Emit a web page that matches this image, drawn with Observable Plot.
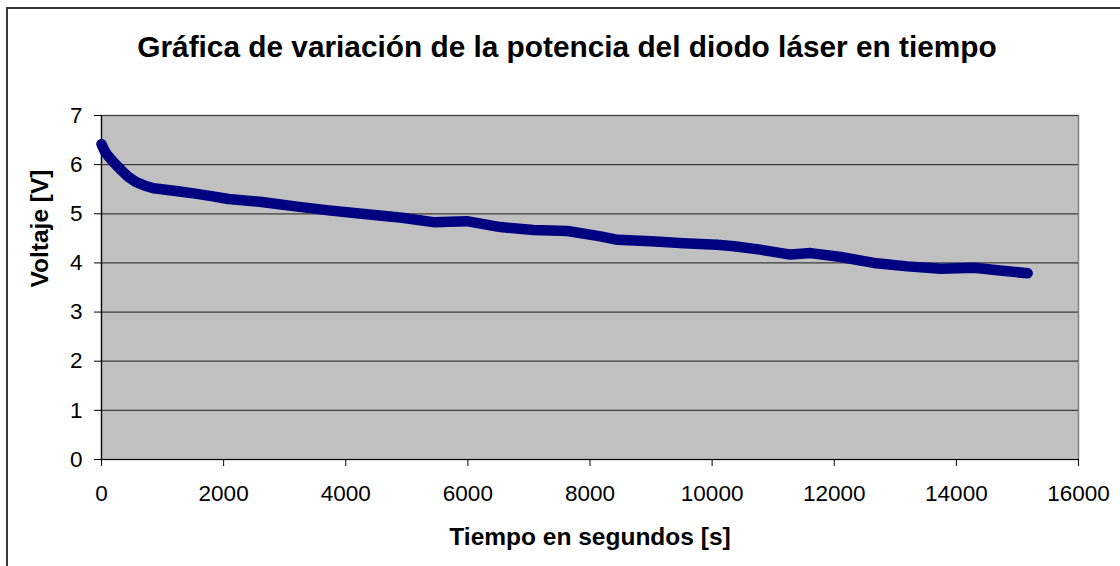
<!DOCTYPE html>
<html>
<head>
<meta charset="utf-8">
<script src="https://cdn.jsdelivr.net/npm/d3@7"></script>
<script src="https://cdn.jsdelivr.net/npm/@observablehq/plot@0.6"></script>
<style>
  html, body { margin: 0; padding: 0; background: #fff; overflow: hidden; }
  #wrap { position: relative; width: 1120px; height: 566px; }
  #border { position: absolute; left: 6px; top: 7px; width: 1200px; height: 700px; border: 2px solid #3a3a3a; box-sizing: border-box; }
  #chart { position: absolute; left: 0; top: 0; }
</style>
</head>
<body>
<div id="wrap"><div id="border"></div><div id="chart"></div></div>
<script>
const chartTitle = "Gráfica de variación de la potencia del diodo láser en tiempo";
const xTitle = "Tiempo en segundos [s]";
const yTitle = "Voltaje [V]";

const xTicks = [0, 2000, 4000, 6000, 8000, 10000, 12000, 14000, 16000];
const yTicks = [0, 1, 2, 3, 4, 5, 6, 7];

const times = [0, 20, 60, 120, 220, 330, 440, 560, 713, 850, 987, 1250, 1533, 1800, 2079, 2626, 3172, 3718, 4265, 4921, 5434, 5980, 6533, 7074, 7631, 8172, 8450, 9000, 9537, 10082, 10360, 10787, 11287, 11615, 12107, 12648, 13200, 13746, 14292, 14675, 15167];
const volts = [6.42, 6.36, 6.26, 6.16, 6.02, 5.88, 5.75, 5.65, 5.57, 5.52, 5.5, 5.46, 5.41, 5.36, 5.3, 5.24, 5.15, 5.07, 5.0, 4.92, 4.83, 4.85, 4.73, 4.67, 4.65, 4.54, 4.47, 4.44, 4.4, 4.37, 4.34, 4.27, 4.17, 4.2, 4.12, 4.0, 3.93, 3.88, 3.9, 3.85, 3.79];

const data = times.map((t, i) => ({t, v: volts[i]}));
const font = "'Liberation Sans', Arial, Helvetica, sans-serif";

const chart = Plot.plot({
  width: 1120,
  height: 566,
  marginLeft: 101,
  marginRight: 42,
  marginTop: 115,
  marginBottom: 107,
  style: {fontFamily: font, fontSize: "22.5px", color: "#000", background: "transparent"},
  x: {domain: [0, 16000]},
  y: {domain: [0, 7]},
  marks: [
    Plot.frame({fill: "#c0c0c0", stroke: "#808080", strokeWidth: 1.5}),
    Plot.gridY(yTicks.slice(1), {stroke: "#3c3c3c", strokeOpacity: 1, strokeWidth: 1.2}),
    Plot.axisY(yTicks, {tickSize: 7, tickPadding: 12, fontSize: 22.5, label: null, tickFormat: d => String(d), stroke: "#000"}),
    Plot.axisX(xTicks, {tickSize: 7, tickPadding: 19, fontSize: 22.5, label: null, tickFormat: d => String(d), stroke: "#000"}),
    Plot.ruleX([0], {stroke: "#000", strokeWidth: 1.2}),
    Plot.ruleY([0], {stroke: "#000", strokeWidth: 1.2}),
    Plot.line(data, {x: "t", y: "v", stroke: "#000080", strokeWidth: 10.5, strokeLinecap: "round", strokeLinejoin: "round"}),
    Plot.text([chartTitle], {text: d => d, frameAnchor: "top", dx: -23, dy: -68, lineAnchor: "middle", fontSize: 29.8, fontWeight: "bold", fill: "#000"}),
    Plot.text([xTitle], {text: d => d, frameAnchor: "bottom", dy: 78, lineAnchor: "middle", fontSize: 24.5, fontWeight: "bold", fill: "#000"}),
    Plot.text([yTitle], {text: d => d, frameAnchor: "left", dx: -61, rotate: -90, lineAnchor: "middle", fontSize: 24.5, fontWeight: "bold", fill: "#000"})
  ]
});
document.getElementById("chart").appendChild(chart);
</script>
</body>
</html>
